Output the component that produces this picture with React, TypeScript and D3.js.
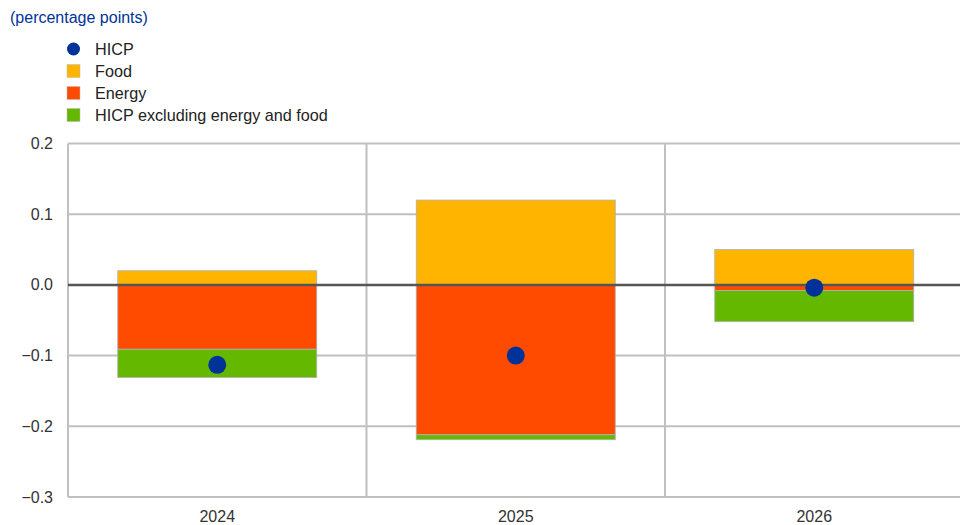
import React from "react";
import * as d3 from "d3";

const categories = ["2024", "2025", "2026"];
const food = [0.02, 0.12, 0.05];
const energy = [-0.091, -0.212, -0.008];
const core = [-0.04, -0.007, -0.044];
const hicp = [-0.113, -0.1, -0.004];
const yTicks = [0.2, 0.1, 0.0, -0.1, -0.2, -0.3];
const legendLabels = ["HICP", "Food", "Energy", "HICP excluding energy and food"];

const COLORS = { hicp: "#003299", food: "#ffb400", energy: "#ff4b00", core: "#65b800" };
const FONT = "'Liberation Sans', Arial, sans-serif";

export default function App() {
  const W = 960, H = 525;
  const left = 68, right = 963.5, top = 143.5, bottom = 497;
  const x = d3.scaleBand<string>().domain(categories).range([left, right]).paddingInner(1 / 3).paddingOuter(1 / 6);
  const y = d3.scaleLinear().domain([-0.3, 0.2]).range([bottom, top]);
  const step = x.step();

  const bars: { key: string; x: number; y0: number; y1: number; color: string }[] = [];
  categories.forEach((c, i) => {
    const bx = x(c)!;
    bars.push({ key: c + "f", x: bx, y0: 0, y1: food[i], color: COLORS.food });
    bars.push({ key: c + "e", x: bx, y0: 0, y1: energy[i], color: COLORS.energy });
    bars.push({ key: c + "c", x: bx, y0: energy[i], y1: energy[i] + core[i], color: COLORS.core });
  });

  const legendColors = [COLORS.hicp, COLORS.food, COLORS.energy, COLORS.core];

  return (
    <svg width={W} height={H} style={{ position: "absolute", left: 0, top: 0, background: "#fff" }} fontFamily={FONT}>
      <text x={10} y={23} fontSize={16} fill="#003399">(percentage points)</text>
      {legendLabels.map((l, i) => {
        const cy = 49 + i * 22;
        return (
          <g key={l}>
            {i === 0 ? (
              <circle cx={73.5} cy={cy} r={6.5} fill={legendColors[i]} />
            ) : (
              <rect x={67} y={cy - 6.5} width={13} height={13} fill={legendColors[i]} stroke="#bbb" strokeWidth={0.5} />
            )}
            <text x={95} y={cy + 5.5} fontSize={16.2} fill="#222">{l}</text>
          </g>
        );
      })}
      {yTicks.map((t) => (
        <g key={t}>
          {t !== 0 && <line x1={left} x2={W} y1={y(t)} y2={y(t)} stroke="#c0c0c0" strokeWidth={2} />}
          <text x={53} y={y(t) + 5.5} fontSize={16} fill="#333" textAnchor="end">{d3.format(".1f")(t)}</text>
        </g>
      ))}
      {categories.map((c, i) => {
        const xx = left + step * i;
        return <line key={c} x1={xx} x2={xx} y1={top} y2={bottom} stroke="#c0c0c0" strokeWidth={2} />;
      })}
      {bars.map((b) => (
        <rect key={b.key} x={b.x} y={y(Math.max(b.y0, b.y1))} width={x.bandwidth()} height={Math.abs(y(b.y0) - y(b.y1))}
          fill={b.color} stroke="#b0b0b0" strokeWidth={0.8} />
      ))}
      <line x1={left} x2={W} y1={y(0)} y2={y(0)} stroke="#555" strokeWidth={2.5} />
      {categories.map((c, i) => (
        <circle key={c} cx={x(c)! + x.bandwidth() / 2} cy={y(hicp[i])} r={9} fill={COLORS.hicp} />
      ))}
      {categories.map((c) => (
        <text key={c} x={x(c)! + x.bandwidth() / 2} y={522} fontSize={16} fill="#333" textAnchor="middle">{c}</text>
      ))}
    </svg>
  );
}
